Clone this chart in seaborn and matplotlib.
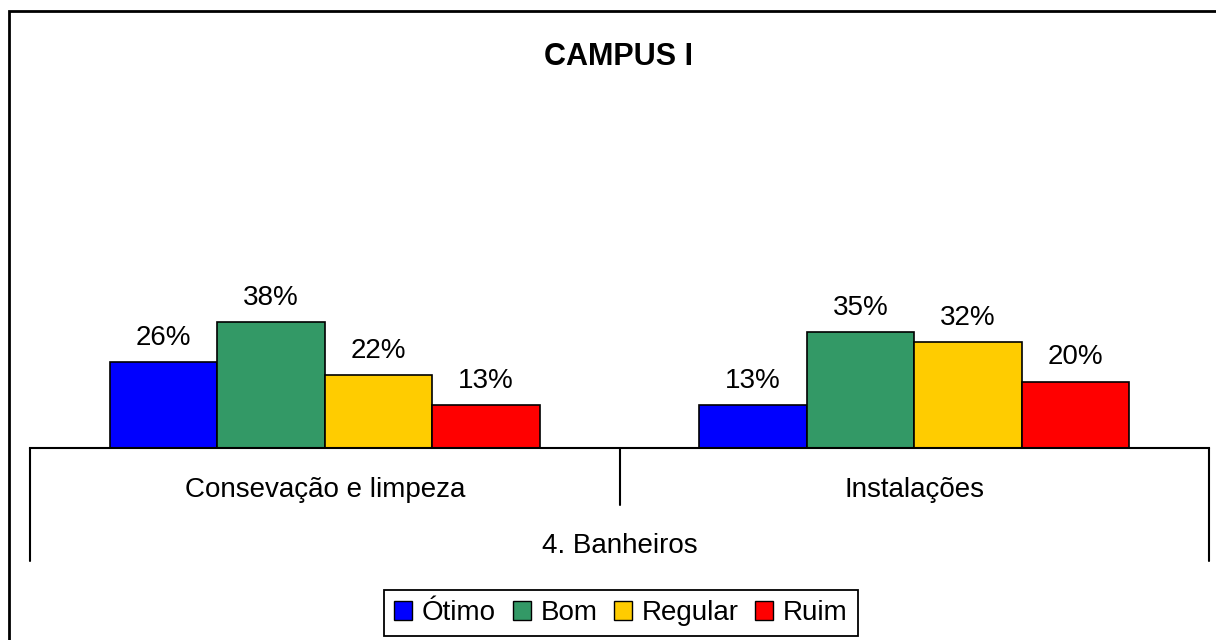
import pandas as pd
import matplotlib.pyplot as plt
import seaborn as sns
from matplotlib.patches import Rectangle

# Data
categories = ["Consevação e limpeza", "Instalações"]
ratings = ["Ótimo", "Bom", "Regular", "Ruim"]
otimo = [26, 13]
bom = [38, 35]
regular = [22, 32]
ruim = [13, 20]
colors = ["#0000FF", "#339966", "#FFCC00", "#FF0000"]

df = pd.DataFrame({
    "categoria": categories * 4,
    "avaliacao": [r for r in ratings for _ in categories],
    "valor": otimo + bom + regular + ruim,
})

sns.set_style("white")
plt.rcParams["font.family"] = ["Liberation Sans", "DejaVu Sans"]
plt.rcParams["text.color"] = "black"

fig = plt.figure(figsize=(12.16, 6.4), dpi=100)
ax = fig.add_axes([30 / 1216, 192 / 640, 1179 / 1216, 332 / 640])

sns.barplot(data=df, x="categoria", y="valor", hue="avaliacao",
            order=categories, hue_order=ratings, palette=colors,
            width=0.73, gap=0, edgecolor="black", linewidth=1.2,
            saturation=1, ax=ax, legend=False)

for cont in ax.containers:
    ax.bar_label(cont, fmt="%d%%", padding=8, fontsize=20, color="black")

ax.set_xlim(-0.5, 1.5)
ax.set_ylim(0, 100)
ax.set_yticks([])
ax.set_ylabel("")
ax.set_xlabel("")
ax.set_xticks([])
for s in ["left", "top", "right"]:
    ax.spines[s].set_visible(False)
ax.spines["bottom"].set_color("black")
ax.spines["bottom"].set_linewidth(1.5)

# multi-level category axis
tr = ax.get_xaxis_transform()
for x, depth in [(-0.5, -0.34), (0.5, -0.172), (1.5, -0.34)]:
    ax.plot([x, x], [0, depth], color="black", lw=1.5, transform=tr, clip_on=False)
for i, c in enumerate(categories):
    ax.text(i, -0.127, c, transform=tr, ha="center", va="center", fontsize=20)
ax.text(0.5, -0.295, "4. Banheiros", transform=tr, ha="center", va="center", fontsize=20)

fig.text(618 / 1216, 1 - 57 / 640, "CAMPUS I", ha="center", va="center",
         fontsize=22, fontweight="bold")

# legend
handles = [Rectangle((0, 0), 1, 1, facecolor=c, edgecolor="black") for c in colors]
leg = fig.legend(handles, ratings, loc="center", bbox_to_anchor=(621 / 1216, 1 - 613 / 640),
                 ncol=4, fontsize=20, frameon=True, fancybox=False, edgecolor="black",
                 framealpha=1, handlelength=0.65, handleheight=0.65, handletextpad=0.35,
                 columnspacing=0.6, borderpad=0.35, borderaxespad=0)
leg.get_frame().set_linewidth(1.3)

# chart border
fig.patches.append(Rectangle((9 / 1216, -0.1), 1.0, 1.1 - 11 / 640, transform=fig.transFigure,
                             fill=False, edgecolor="black", lw=2))

fig.savefig("out.png", dpi=100)
